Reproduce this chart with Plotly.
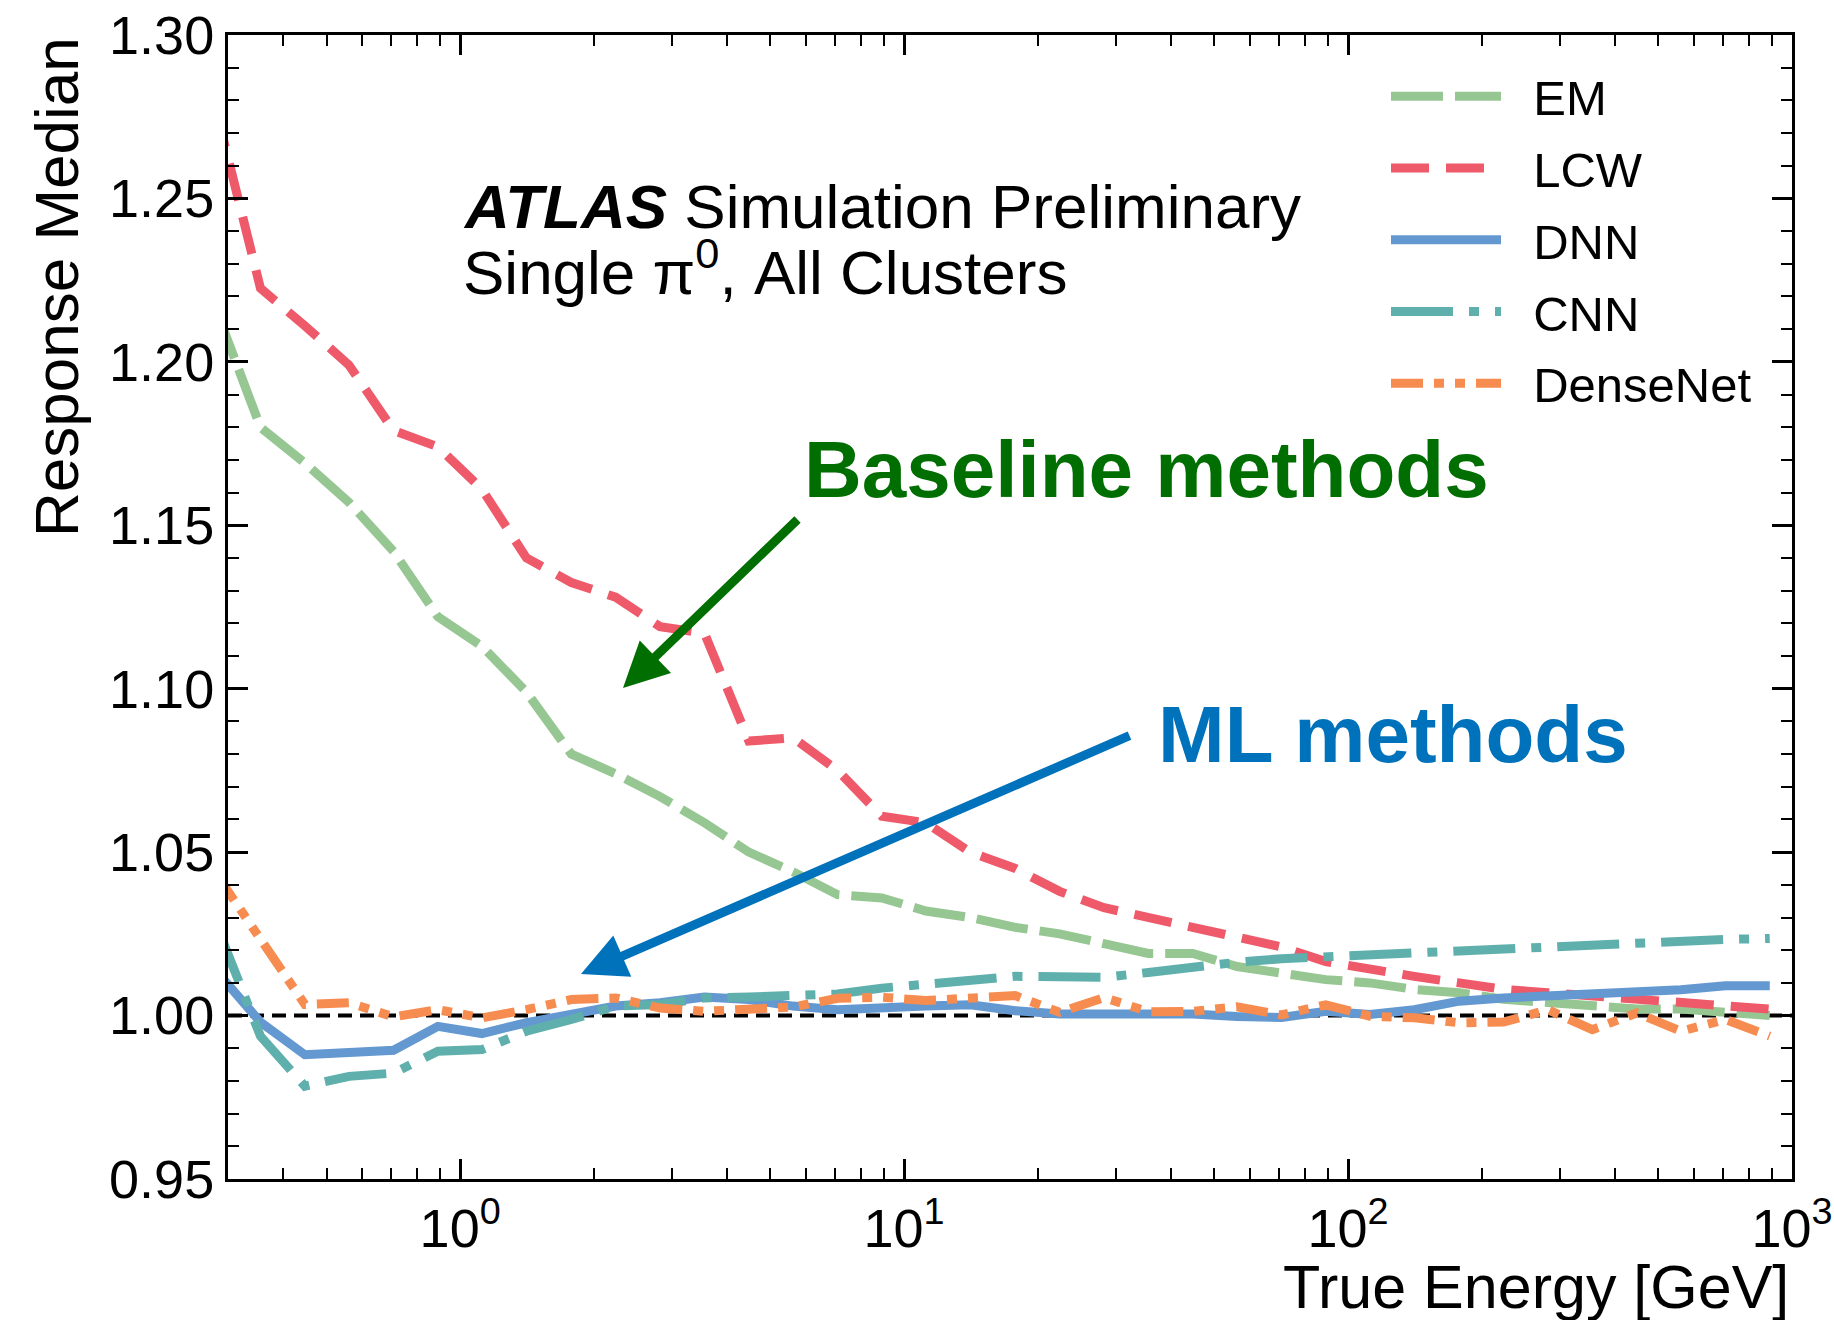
import plotly.graph_objects as go

# ---------------- data ----------------
true_energy = [0.282, 0.355, 0.447, 0.562, 0.708, 0.891, 1.12, 1.41, 1.78, 2.24,
               2.82, 3.55, 4.47, 5.62, 7.08, 8.91, 11.2, 14.1, 17.8, 22.4,
               28.2, 35.5, 44.7, 56.2, 70.8, 89.1, 112, 141, 178, 224,
               282, 355, 447, 562, 708, 891]

em = [1.216, 1.180, 1.169, 1.157, 1.142, 1.122, 1.113, 1.099, 1.080, 1.074,
      1.067, 1.059, 1.050, 1.044, 1.037, 1.036, 1.032, 1.030, 1.027, 1.025,
      1.022, 1.019, 1.019, 1.015, 1.013, 1.011, 1.010, 1.008, 1.007, 1.005,
      1.004, 1.003, 1.002, 1.002, 1.001, 1.000]

lcw = [1.277, 1.2225, 1.211, 1.199, 1.179, 1.174, 1.161, 1.140, 1.1325, 1.128,
       1.119, 1.117, 1.084, 1.085, 1.075, 1.061, 1.059, 1.050, 1.045, 1.038,
       1.033, 1.030, 1.027, 1.024, 1.021, 1.0165, 1.014, 1.012, 1.010, 1.008,
       1.007, 1.006, 1.005, 1.004, 1.003, 1.002]

dnn = [1.0137, 0.998, 0.988, 0.9886, 0.9894, 0.9967, 0.9945, 0.9978, 1.0003, 1.0029,
       1.0039, 1.0057, 1.0049, 1.0029, 1.0018, 1.0026, 1.0029, 1.0033, 1.0015, 1.0005,
       1.0004, 1.0004, 1.0005, 0.9997, 0.9994, 1.0013, 1.0003, 1.0018, 1.0044, 1.0054,
       1.0059, 1.0064, 1.0074, 1.0079, 1.0091, 1.0091]

cnn = [1.028, 0.9937, 0.9784, 0.9814, 0.9824, 0.9891, 0.9896, 0.9952, 0.9988, 1.0029,
       1.0034, 1.0054, 1.0057, 1.0059, 1.0066, 1.0084, 1.0094, 1.0109, 1.0120, 1.0119,
       1.0117, 1.0132, 1.0151, 1.0163, 1.0174, 1.0180, 1.0186, 1.0193, 1.0201, 1.0208,
       1.0211, 1.0216, 1.0221, 1.0226, 1.0233, 1.0236]

densenet = [1.0434, 1.0236, 1.0034, 1.0039, 0.9996, 1.0018, 0.9993, 1.0018, 1.0049, 1.0054,
            1.0023, 1.0013, 1.0018, 1.0026, 1.0053, 1.0056, 1.0046, 1.0056, 1.0061, 1.0010,
            1.0055, 1.0012, 1.0013, 1.0027, 1.0002, 1.0033, 0.9998, 0.9993, 0.9978, 0.9980,
            1.0018, 0.9957, 1.0008, 0.9952, 0.9988, 0.9937]

series_names = ["EM", "LCW", "DNN", "CNN", "DenseNet"]
x_tick_vals = [1, 10, 100, 1000]
x_tick_text = ["10<sup>0</sup>", "10<sup>1</sup>", "10<sup>2</sup>", "10<sup>3</sup>"]
x_minor_vals = [m * d for d in (0.1, 1, 10, 100) for m in range(2, 10) if 0.3 <= m * d <= 1000]

# ---------------- styling ----------------
FONT = "Liberation Sans, Arial, Helvetica, sans-serif"
styles = {
    "EM": dict(color="rgb(150,199,146)", dash="52px,12px"),
    "LCW": dict(color="rgb(238,90,106)", dash="38px,17px"),
    "DNN": dict(color="rgb(100,152,208)", dash="solid"),
    "CNN": dict(color="rgb(95,176,172)", dash="62px,16px,10px,16px"),
    "DenseNet": dict(color="rgb(247,140,80)", dash="32px,11px,10px,11px,10px,11px"),
}
values = {"EM": em, "LCW": lcw, "DNN": dnn, "CNN": cnn, "DenseNet": densenet}

fig = go.Figure()
for name in series_names:
    st = styles[name]
    fig.add_trace(go.Scatter(
        x=true_energy, y=values[name], mode="lines",
        name="\u00a0\u00a0" + name,
        legendgroup=name,
        line=dict(color=st["color"], width=9, dash=st["dash"]),
    ))

# reference line at 1
fig.add_shape(type="line", xref="paper", x0=0, x1=1, yref="y", y0=1.0, y1=1.0,
              line=dict(color="black", width=4, dash="14px,8px"), layer="below")

L, R, T, B = 228, 42, 35, 141
W, H = 1834, 1320
PW, PH = W - L - R, H - T - B

def px(x):
    return (x - L) / PW

def py(y):
    return (H - B - y) / PH

annotations = [
    dict(text="<b><i>ATLAS</i></b> Simulation Preliminary", x=px(461), y=py(206),
         xanchor="left", yanchor="middle", font=dict(size=62, color="black")),
    dict(text="Single π<sup>0</sup>, All Clusters", x=px(461), y=py(268),
         xanchor="left", yanchor="middle", font=dict(size=62, color="black")),
    dict(text="<b>Baseline methods</b>", x=px(802), y=py(470),
         xanchor="left", yanchor="middle", font=dict(size=80, color="rgb(0,110,0)")),
    dict(text="<b>ML methods</b>", x=px(1156), y=py(734),
         xanchor="left", yanchor="middle", font=dict(size=80, color="rgb(0,114,187)")),
    # arrows
    dict(text="", x=px(623), y=py(688), ax=799 - 623, ay=518 - 688,
         showarrow=True, arrowhead=2, arrowsize=1, arrowwidth=9,
         arrowcolor="rgb(0,110,0)"),
    dict(text="", x=px(581), y=py(974), ax=1131 - 581, ay=735 - 974,
         showarrow=True, arrowhead=2, arrowsize=1, arrowwidth=9,
         arrowcolor="rgb(0,114,187)"),
    # axis titles
    dict(text="Response Median", x=px(56), y=1.0, xanchor="center", yanchor="top",
         textangle=-90, font=dict(size=62, color="black")),
    dict(text="True Energy [GeV]", x=px(1791), y=py(1287), xanchor="right",
         yanchor="middle", font=dict(size=61, color="black")),
]
for a in annotations:
    a.setdefault("xref", "paper")
    a.setdefault("yref", "paper")
    a.setdefault("showarrow", False)
    if a.get("showarrow"):
        a["axref"] = "pixel"
        a["ayref"] = "pixel"

fig.update_layout(
    width=W, height=H,
    margin=dict(l=L, r=R, t=T, b=B, pad=0, autoexpand=False),
    paper_bgcolor="white", plot_bgcolor="white",
    font=dict(family=FONT, color="black"),
    annotations=annotations,
    showlegend=True,
    legend=dict(x=px(1386), y=py(58), xanchor="left", yanchor="top",
                bgcolor="rgba(0,0,0,0)", borderwidth=0,
                font=dict(size=49, color="black", family=FONT),
                itemwidth=110, tracegroupgap=5, traceorder="grouped"),
)

fig.update_xaxes(
    type="log", range=[-0.5229, 3.0], automargin=False,
    showline=True, linecolor="black", linewidth=3, mirror="allticks",
    ticks="inside", ticklen=20, tickwidth=2.5, tickcolor="black",
    tickvals=x_tick_vals, ticktext=x_tick_text,
    tickfont=dict(size=54, family=FONT, color="black"),
    showgrid=False, zeroline=False,
    minor=dict(ticks="inside", ticklen=11, tickwidth=2, tickcolor="black",
               tickvals=x_minor_vals, showgrid=False),
)
fig.update_yaxes(
    range=[0.95, 1.30], automargin=False,
    showline=True, linecolor="black", linewidth=3, mirror="allticks",
    ticks="inside", ticklen=20, tickwidth=2.5, tickcolor="black",
    tick0=0.95, dtick=0.05, tickformat=".2f",
    tickfont=dict(size=54, family=FONT, color="black"),
    showgrid=False, zeroline=False,
    minor=dict(ticks="inside", ticklen=11, tickwidth=2, tickcolor="black",
               dtick=0.01, tick0=0.95, showgrid=False),
)

fig.write_html("out.html",
               config={"displayModeBar": False},
               post_script="document.body.style.margin='0';document.body.style.overflow='hidden';")
